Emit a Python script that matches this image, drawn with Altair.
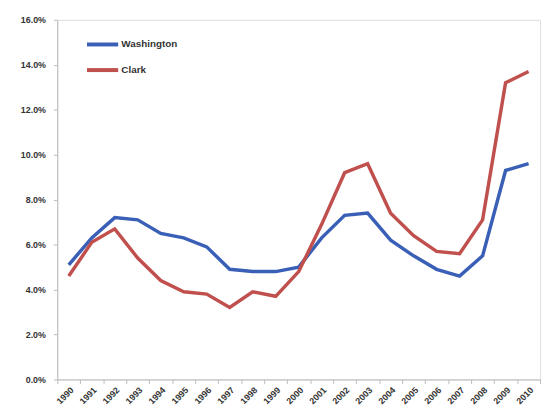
import altair as alt
import pandas as pd

years = [str(y) for y in range(1990, 2011)]
washington = [5.1, 6.3, 7.2, 7.1, 6.5, 6.3, 5.9, 4.9, 4.8, 4.8, 5.0,
              6.3, 7.3, 7.4, 6.2, 5.5, 4.9, 4.6, 5.5, 9.3, 9.6]
clark = [4.6, 6.1, 6.7, 5.4, 4.4, 3.9, 3.8, 3.2, 3.9, 3.7, 4.8,
         6.9, 9.2, 9.6, 7.4, 6.4, 5.7, 5.6, 7.1, 13.2, 13.7]
series = ["Washington", "Clark"]
colors = ["#3a5fb6", "#c0504d"]
y_ticks = [0, 2, 4, 6, 8, 10, 12, 14, 16]

rows = []
for name, vals in zip(series, [washington, clark]):
    for yr, v in zip(years, vals):
        rows.append({"Year": yr, "Rate": v, "Area": name})
df = pd.DataFrame(rows)

font = "Liberation Sans"

chart = alt.Chart(df).mark_line(strokeWidth=3.5).encode(
    x=alt.X("Year:O", bandPosition=0.5,
            scale=alt.Scale(type="band", paddingInner=0, paddingOuter=0),
            axis=alt.Axis(title=None, labelAngle=315, labelAlign="right",
                          labelBaseline="top", tickBand="extent",
                          domainColor="#bbbbbb", tickColor="#bbbbbb",
                          tickSize=4, labelFont=font, labelFontSize=9,
                          labelFontWeight="bold", labelColor="#333333",
                          labelPadding=2, grid=False)),
    y=alt.Y("Rate:Q",
            scale=alt.Scale(domain=[0, 16], nice=False),
            axis=alt.Axis(title=None, values=y_ticks,
                          labelExpr="format(datum.value, '.1f') + '%'",
                          domainColor="#bbbbbb", tickColor="#bbbbbb",
                          tickSize=4, labelFont=font, labelFontSize=9,
                          labelFontWeight="bold", labelColor="#333333",
                          labelPadding=8, grid=False)),
    color=alt.Color("Area:N",
                    scale=alt.Scale(domain=series, range=colors),
                    legend=alt.Legend(title=None, orient="none",
                                      legendX=28, legendY=7,
                                      symbolType="stroke", symbolSize=1000,
                                      symbolStrokeWidth=4, labelOffset=1,
                                      rowPadding=0,
                                      labelFont=font, labelFontSize=10,
                                      labelFontWeight="bold",
                                      labelColor="#333333")),
).properties(
    width=490, height=365,
    autosize=alt.AutoSizeParams(type="none"),
    padding={"left": 50, "top": 9, "right": 5, "bottom": 30},
).configure_view(stroke=None).configure(background="white")

chart.save("out.html", embed_options={"renderer": "svg", "actions": False})
